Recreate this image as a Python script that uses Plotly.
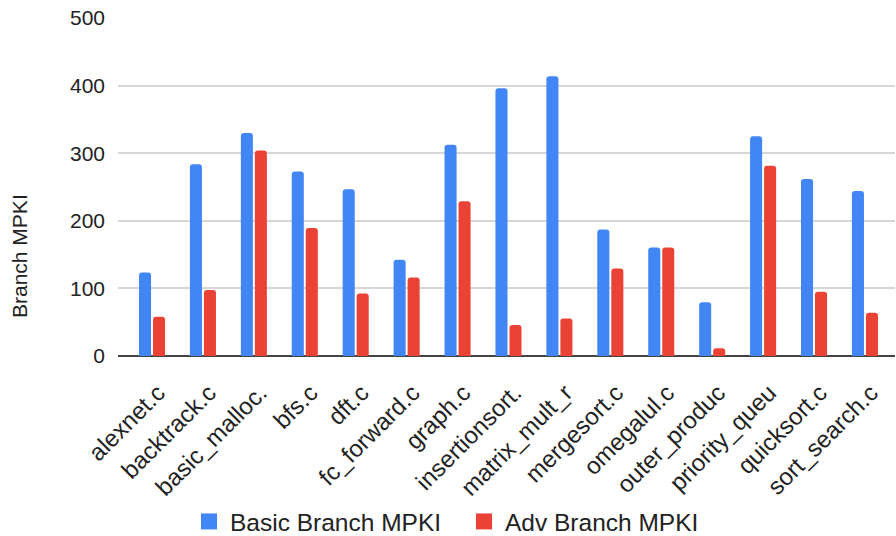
import plotly.graph_objects as go

categories = ["alexnet.c", "backtrack.c", "basic_malloc.", "bfs.c", "dft.c", "fc_forward.c",
              "graph.c", "insertionsort.", "matrix_mult_r", "mergesort.c", "omegalul.c",
              "outer_produc", "priority_queu", "quicksort.c", "sort_search.c"]
basic_mpki = [123.5, 283.5, 330, 273, 246.5, 142.5, 312.5, 396, 414, 187, 160.5, 79.5, 325, 262, 244]
adv_mpki = [58, 97.5, 304, 189.5, 92.5, 116, 229, 46, 55.5, 129.5, 160.5, 11.5, 281.5, 95, 64]
y_ticks = [0, 100, 200, 300, 400, 500]
series_names = ["Basic Branch MPKI", "Adv Branch MPKI"]
series_colors = ["#4285F4", "#EA4335"]

fig = go.Figure()
for name, vals, col in zip(series_names, [basic_mpki, adv_mpki], series_colors):
    fig.add_trace(go.Bar(x=categories, y=vals, name=name, showlegend=False,
                         marker=dict(color=col, line=dict(width=0))))
# legend proxies (larger square swatches)
for name, col in zip(series_names, series_colors):
    fig.add_trace(go.Scatter(x=[None], y=[None], mode="markers", name=name,
                             marker=dict(symbol="square", size=16, color=col)))

font_family = "Liberation Sans, Arial, sans-serif"
fig.update_layout(
    width=896, height=536,
    margin=dict(l=118, r=1, t=18, b=180, autoexpand=False),
    paper_bgcolor="white", plot_bgcolor="white",
    barmode="group", bargap=0.45, bargroupgap=0.14,
    barcornerradius=3,
    font=dict(family=font_family, size=18, color="#222222"),
    showlegend=True,
    legend=dict(orientation="h", xref="container", x=463 / 896, xanchor="center",
                yref="container", y=(536 - 521.5) / 536, yanchor="middle",
                itemsizing="trace", entrywidth=228, entrywidthmode="pixels",
                font=dict(size=24.5, color="#222222"), itemwidth=32),
    xaxis=dict(range=[-0.668, 14.59], tickangle=-45, showgrid=False, automargin=False,
               ticklabelshift=6, ticklabelstandoff=17,
               tickfont=dict(size=24, color="#222222"), ticks="", showline=False),
    yaxis=dict(range=[0, 500], tickvals=y_ticks, showgrid=True, gridcolor="#D6D6D6",
               gridwidth=1.5, zeroline=True, zerolinecolor="#444444", zerolinewidth=1.5,
               automargin=False, ticklabelstandoff=12,
               tickfont=dict(size=21, color="#222222"), ticks="", ticklen=0),
    annotations=[dict(text="Branch MPKI", textangle=-90, xref="paper", yref="paper",
                      x=(19 - 118) / 777, y=(356 - 256) / 338, xanchor="center", yanchor="middle",
                      showarrow=False, font=dict(size=21, color="#222222"))],
)

fig.write_html("out.html", config={"displayModeBar": False},
               post_script="document.body.style.margin='0';")
